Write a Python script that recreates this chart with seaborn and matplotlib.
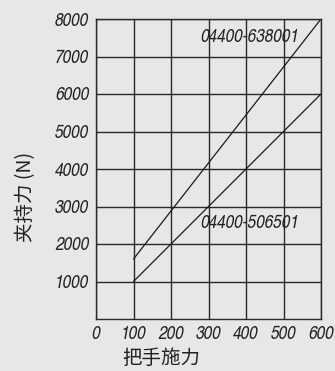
import matplotlib
matplotlib.use("Agg")
import matplotlib.pyplot as plt
import pandas as pd
import seaborn as sns
from matplotlib import font_manager

# データ
x_points = [100, 600]
grip_638001 = [1600, 8000]
grip_506501 = [1000, 6000]
series_names = ["04400-638001", "04400-506501"]
x_ticks = [0, 100, 200, 300, 400, 500, 600]
y_ticks = [1000, 2000, 3000, 4000, 5000, 6000, 7000, 8000]

df = pd.DataFrame({
    "把手施力": x_points * 2,
    "夹持力": grip_638001 + grip_506501,
    "型号": [series_names[0]] * 2 + [series_names[1]] * 2,
})

sns.set_theme(style="white")
bg = "#e6e7e8"
names = {f.name for f in font_manager.fontManager.ttflist}
num_font = "TeX Gyre Heros Cn" if "TeX Gyre Heros Cn" in names else "Liberation Sans"
plt.rcParams["font.family"] = [num_font, "DejaVu Sans"]
cjk = ["Noto Sans CJK SC", "DejaVu Sans"]

fig = plt.figure(figsize=(3.35, 3.71), dpi=100, facecolor=bg)
ax = fig.add_axes([96 / 335, 52 / 371, 225 / 335, 300 / 371], facecolor=bg)

sns.lineplot(data=df, x="把手施力", y="夹持力", hue="型号",
             palette=["#1a1a1a", "#1a1a1a"], lw=0.9, legend=False, ax=ax)

ax.set_xlim(0, 600)
ax.set_ylim(0, 8000)
ax.set_xticks(x_ticks)
ax.set_yticks(y_ticks)
ax.grid(True, color="#2a2a2a", lw=1.0)
for s in ax.spines.values():
    s.set_color("#2a2a2a")
    s.set_linewidth(1.0)
ax.tick_params(length=0, pad=5, labelsize=13.5, colors="#222222")
for lab in ax.get_xticklabels() + ax.get_yticklabels():
    lab.set_style("italic")

ax.text(540, 7500, series_names[0], ha="right", va="center", style="italic",
        fontsize=13.5, color="#222222")
ax.text(277, 2560, series_names[1], ha="left", va="center", style="italic",
        fontsize=13.5, color="#222222")

ax.set_xlabel("把手施力", family=cjk, fontsize=14, color="#222222", va="center")
ax.set_ylabel("夹持力 (N)", family=cjk, fontsize=14, color="#222222", va="center", ha="center")
ax.xaxis.set_label_coords(0.291, -0.133)
ax.yaxis.set_label_coords(-0.311, 0.407)

plt.savefig("out.png", dpi=100, facecolor=bg)
